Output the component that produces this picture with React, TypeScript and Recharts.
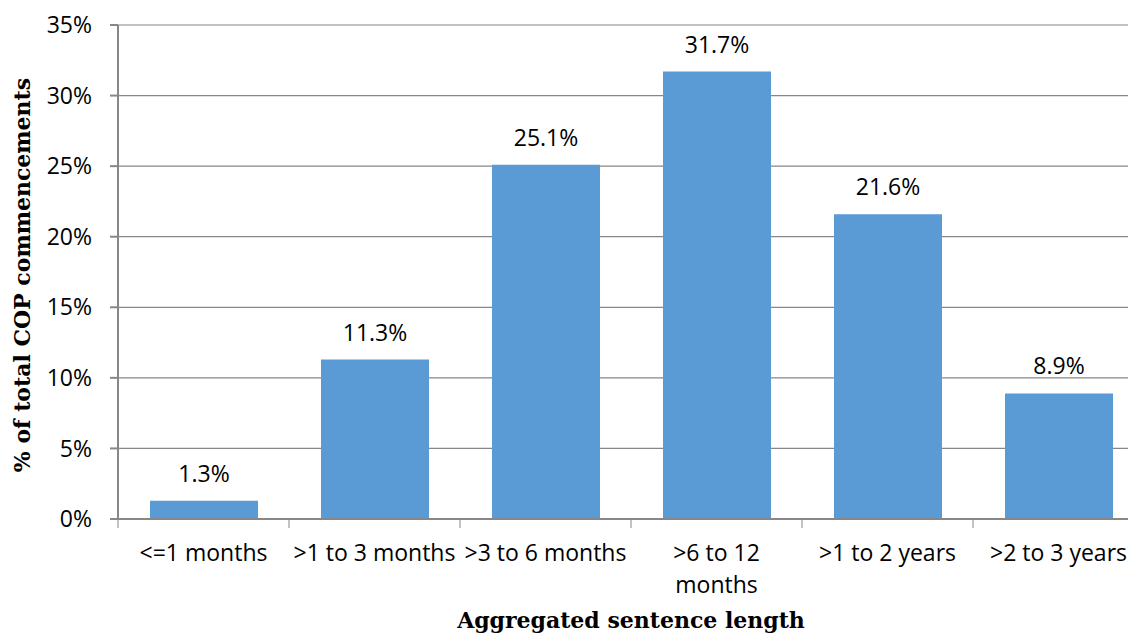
import React from 'react';
import { BarChart, Bar, XAxis, YAxis, CartesianGrid, LabelList } from 'recharts';

const categories = ['<=1 months', '>1 to 3 months', '>3 to 6 months', '>6 to 12\nmonths', '>1 to 2 years', '>2 to 3 years'];
const shares = [1.3, 11.3, 25.1, 31.7, 21.6, 8.9];
const yTicks = [0, 5, 10, 15, 20, 25, 30, 35];

const data = categories.map((name, i) => ({ name, value: shares[i] }));

const AXIS = '#878787';
const BAR = '#5B9BD5';
const SANS = '"Open Sans", sans-serif';
const SERIF = '"DejaVu Serif", serif';
const BAND = 171;

// category labels sit under each bar, with tick marks on the band edges
const CategoryTick = (props: any) => {
  const { x, y, payload, index } = props;
  const lines = String(payload.value).split('\n');
  return (
    <g>
      <line x1={x - BAND / 2} y1={y} x2={x - BAND / 2} y2={y + 9} stroke={AXIS} strokeWidth={1} />
      {index === categories.length - 1 && (
        <line x1={x + BAND / 2} y1={y} x2={x + BAND / 2} y2={y + 9} stroke={AXIS} strokeWidth={1} />
      )}
      {lines.map((line, i) => (
        <text key={i} x={x} y={y + 42 + i * 32} textAnchor="middle" fill="#000" fontFamily={SANS} fontSize={23}>
          {line}
        </text>
      ))}
    </g>
  );
};

const App: React.FC = () => {
  return (
    <div style={{ margin: -8, width: 1136, height: 644, overflow: 'hidden', background: '#fff', position: 'relative' }}>
      <BarChart width={1152} height={644} data={data} margin={{ top: 25, right: 8, left: 0, bottom: 0 }}>
        <CartesianGrid vertical={false} stroke={AXIS} strokeWidth={1.2} />
        <XAxis
          dataKey="name"
          height={125}
          tickLine={false}
          tickSize={0}
          tickMargin={0}
          interval={0}
          stroke={AXIS}
          strokeWidth={2}
          tick={<CategoryTick />}
        />
        <YAxis
          width={118}
          domain={[0, 35]}
          ticks={yTicks}
          tickFormatter={(v: number) => `${v}%`}
          tickSize={8}
          tickMargin={18}
          stroke={AXIS}
          strokeWidth={2}
          tick={{ fill: '#000', fontFamily: SANS, fontSize: 23 }}
        />
        <Bar dataKey="value" fill={BAR} barSize={108} isAnimationActive={false}>
          <LabelList
            dataKey="value"
            position="top"
            offset={19}
            formatter={(v: any) => `${Number(v).toFixed(1)}%`}
            style={{ fill: '#000', fontFamily: SANS, fontSize: 23 }}
          />
        </Bar>
      </BarChart>
      <div
        style={{
          position: 'absolute',
          left: 22,
          top: 275,
          transform: 'translate(-50%, -50%) rotate(-90deg)',
          whiteSpace: 'nowrap',
          fontFamily: SERIF,
          fontWeight: 'bold',
          fontSize: 22,
          color: '#000',
        }}
      >
        % of total COP commencements
      </div>
      <div
        style={{
          position: 'absolute',
          left: 631,
          top: 620,
          transform: 'translate(-50%, -50%)',
          whiteSpace: 'nowrap',
          fontFamily: SERIF,
          fontWeight: 'bold',
          fontSize: 22,
          lineHeight: '26px',
          color: '#000',
        }}
      >
        Aggregated sentence length
      </div>
    </div>
  );
};

export default App;
